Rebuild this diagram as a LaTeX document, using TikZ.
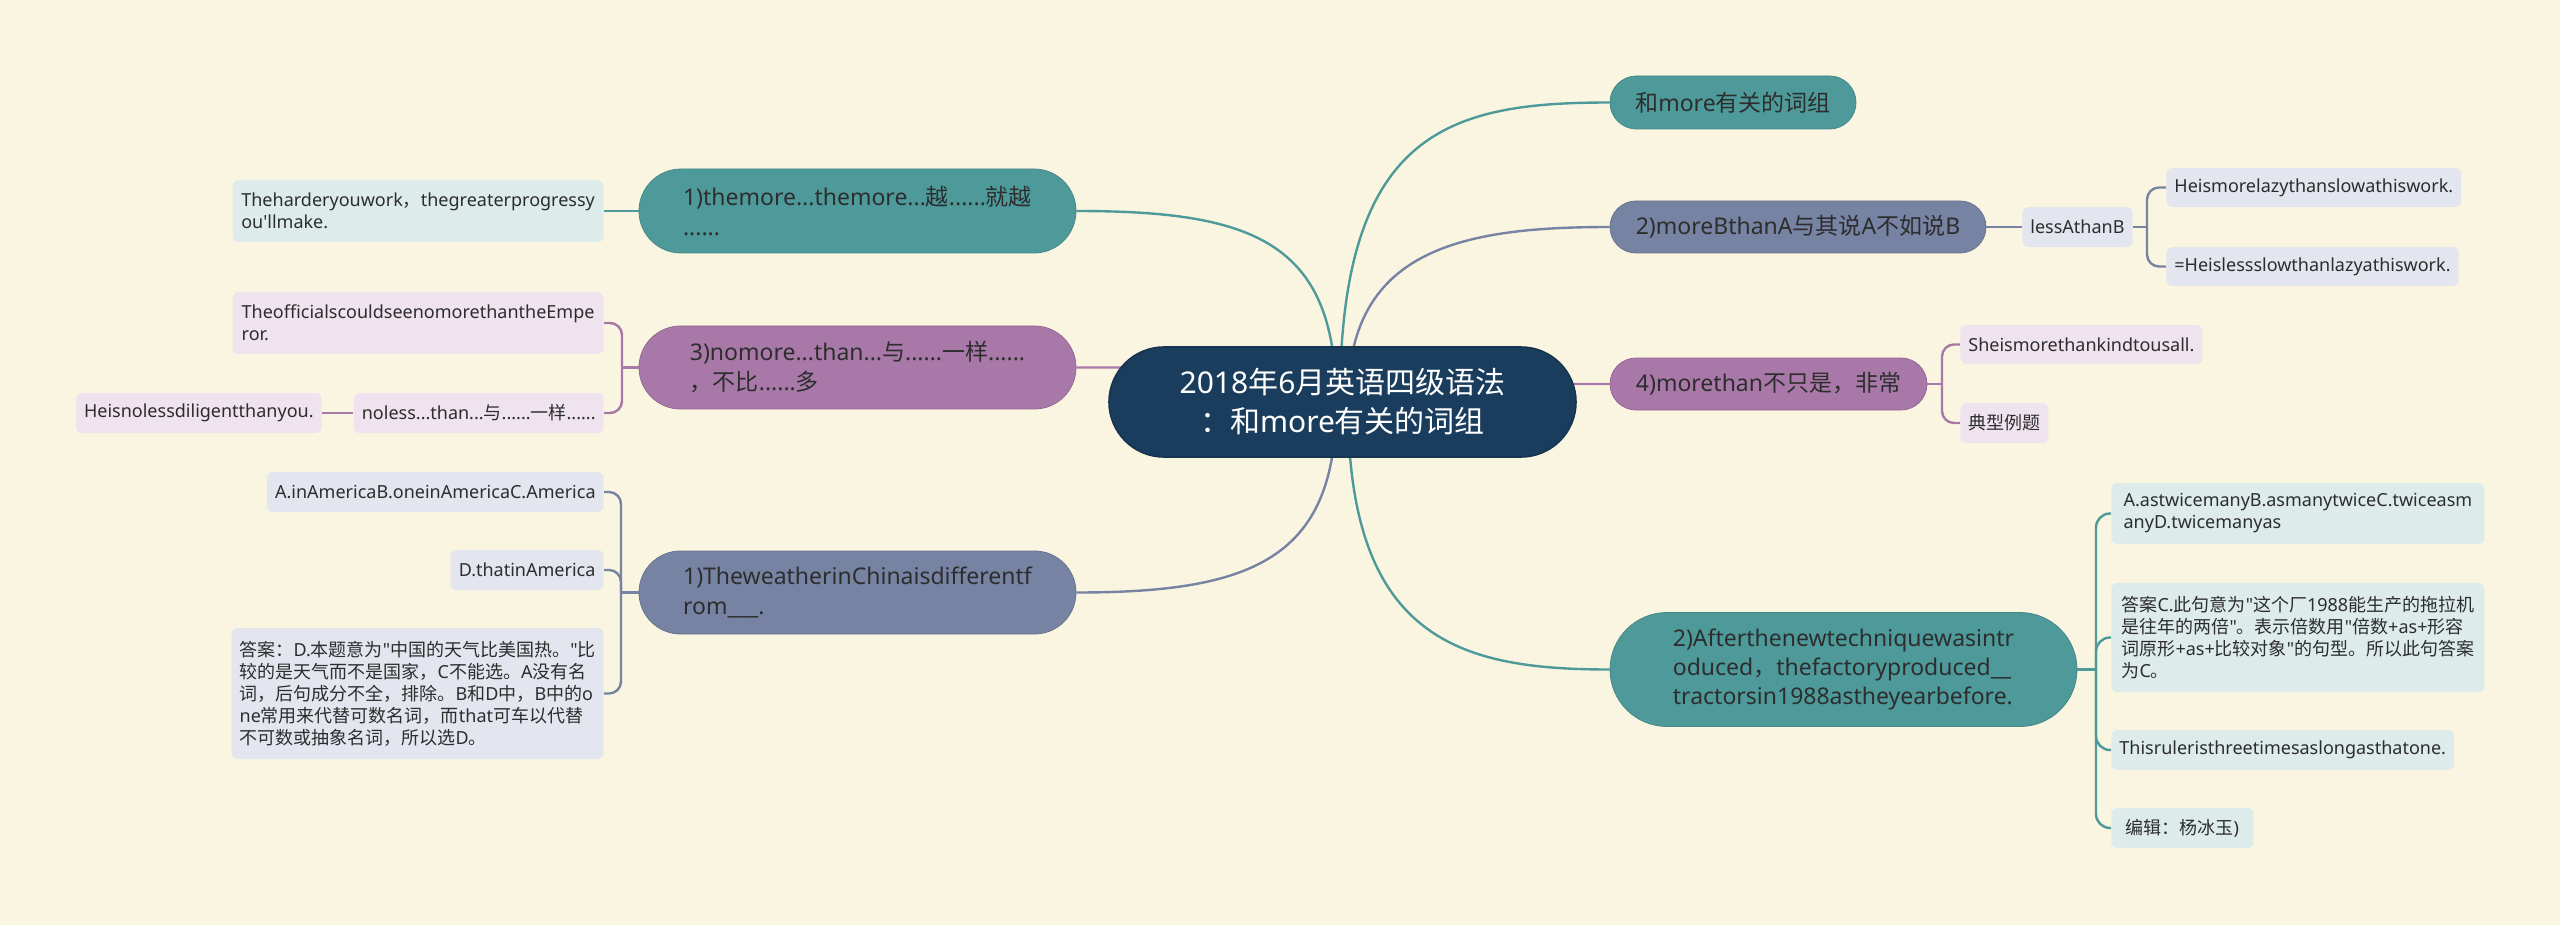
\documentclass[tikz,border=0pt]{standalone}
\usepackage{fontspec}
\setmainfont{Noto Sans}[Ligatures=TeXOff]
\newfontfamily\zhf{Noto Sans CJK SC}[Ligatures=TeXOff]
\newcommand\zh[1]{{\zhf #1}}
\definecolor{bgc}{RGB}{250,245,224}
\definecolor{navy}{RGB}{26,61,93}
\definecolor{tealm}{RGB}{78,154,155}
\definecolor{purm}{RGB}{168,121,168}
\definecolor{slatem}{RGB}{118,131,163}
\definecolor{tealL}{RGB}{221,235,235}
\definecolor{purL}{RGB}{238,227,238}
\definecolor{slateL}{RGB}{227,230,238}
\definecolor{txt}{RGB}{45,45,45}
\pgfdeclarelayer{bg}
\pgfdeclarelayer{edges}
\pgfsetlayers{bg,edges,main}
\tikzset{
  mnode/.style={text=txt, font=\fontsize{11.5}{15}\selectfont, align=left, inner xsep=12pt, inner ysep=2pt},
  leaf/.style={text=txt, font=\fontsize{9}{11}\selectfont, align=left, inner xsep=4pt, inner ysep=2pt, rounded corners=3pt},
  edge/.style={line width=1.2pt},
  br/.style={line width=1.2pt, rounded corners=6pt},
}
\begin{document}
\begin{tikzpicture}[x=0.5pt,y=-0.5pt]
\begin{pgfonlayer}{bg}
\fill[bgc] (0,0) rectangle (2560,925);
\end{pgfonlayer}

% root
\node[fill=navy, draw=navy!85!black, line width=0.8pt, text=white, font=\fontsize{15}{19.5}\selectfont, align=center, minimum width=233.5pt, minimum height=55pt, rounded corners=27.5pt, inner sep=2pt] (root) at (1342.5,402) {2018\zh{年}6\zh{月英语四级语法}\\\zh{：和}more\zh{有关的词组}};
\coordinate (r1) at (1336,400);
\coordinate (r2) at (1340,400);
\coordinate (r3) at (1348,400);
\coordinate (r4) at (1342,390);
\coordinate (r5) at (1342,395);
\coordinate (r6) at (1336,405);
\coordinate (r7) at (1348,405);

% right side
\node[mnode, fill=tealm, draw=tealm!88!black, minimum width=123pt, minimum height=26.5pt, rounded corners=13.25pt] (a) at (1733,102.5) {\zh{和}more\zh{有关的词组}};
\node[mnode, fill=slatem, draw=slatem!88!black, minimum width=188pt, minimum height=26pt, rounded corners=13pt] (b) at (1798,227) {2)moreBthanA\zh{与其说}A\zh{不如说}B};
\node[leaf, fill=slateL, anchor=west, minimum width=54.5pt, minimum height=20pt] (b1) at (2022,227) {lessAthanB};
\node[leaf, fill=slateL, anchor=west, minimum width=146pt, minimum height=19.5pt] (b11) at (2166,187.5) {Heismorelazythanslowathiswork.};
\node[leaf, fill=slateL, anchor=west, minimum width=146pt, minimum height=19.5pt] (b12) at (2166,266.5) {=Heislessslowthanlazyathiswork.};
\node[mnode, fill=purm, draw=purm!88!black, minimum width=158.5pt, minimum height=26pt, rounded corners=13pt] (c) at (1768.5,384) {4)morethan\zh{不只是，非常}};
\node[leaf, fill=purL, anchor=west, minimum width=120.5pt, minimum height=19.5pt] (c1) at (1960,344.5) {Sheismorethankindtousall.};
\node[leaf, fill=purL, anchor=west, minimum width=44pt, minimum height=20pt] (c2) at (1960,423) {\zh{典型例题}};
\node[mnode, fill=tealm, draw=tealm!88!black, font=\fontsize{11.5}{14.5}\selectfont, minimum width=233.5pt, minimum height=57pt, rounded corners=28.5pt] (d) at (1843.5,669.5) {2)Afterthenewtechniquewasintr\\oduced\zh{，}thefactoryproduced\_\_\\tractorsin1988astheyearbefore.};
\node[leaf, fill=tealL, anchor=west, minimum width=186.5pt, minimum height=30.5pt] (d1) at (2111,513.5) {A.astwicemanyB.asmanytwiceC.twiceasm\\anyD.twicemanyas};
\node[leaf, fill=tealL, anchor=west, minimum width=186.5pt, minimum height=54.5pt] (d2) at (2111,637.5) {\zh{答案}C.\zh{此句意为}"\zh{这个厂}1988\zh{能生产的拖拉机}\\\zh{是往年的两倍}"\zh{。表示倍数用}"\zh{倍数}+as+\zh{形容}\\\zh{词原形}+as+\zh{比较对象}"\zh{的句型。所以此句答案}\\\zh{为}C\zh{。}};
\node[leaf, fill=tealL, anchor=west, minimum width=169.5pt, minimum height=20pt] (d3) at (2111,750) {Thisruleristhreetimesaslongasthatone.};
\node[leaf, fill=tealL, anchor=west, minimum width=71pt, minimum height=20pt] (d4) at (2111,828) {\zh{编辑：杨冰玉})};

% left side
\node[mnode, fill=tealm, draw=tealm!88!black, minimum width=218.5pt, minimum height=42pt, rounded corners=21pt] (e) at (857.5,211) {1)themore...themore...\zh{越}......\zh{就越}\\......};
\node[leaf, fill=tealL, anchor=east, minimum width=185.5pt, minimum height=31pt] (e1) at (604,211) {Theharderyouwork\zh{，}thegreaterprogressy\\ou'llmake.};
\node[mnode, fill=purm, draw=purm!88!black, minimum width=218.5pt, minimum height=41.5pt, rounded corners=20.75pt] (f) at (857.5,367.5) {3)nomore...than...\zh{与}......\zh{一样}......\\\zh{，不比}......\zh{多}};
\node[leaf, fill=purL, anchor=east, minimum width=185.5pt, minimum height=31pt] (f1) at (604,323) {TheofficialscouldseenomorethantheEmpe\\ror.};
\node[leaf, fill=purL, anchor=east, minimum width=124pt, minimum height=20pt] (f2) at (604,413) {noless...than...\zh{与}......\zh{一样}......};
\node[leaf, fill=purL, anchor=east, minimum width=122.5pt, minimum height=20pt] (f21) at (322,413) {Heisnolessdiligentthanyou.};
\node[mnode, fill=slatem, draw=slatem!88!black, minimum width=218.5pt, minimum height=41.5pt, rounded corners=20.75pt] (g) at (857.5,592.5) {1)TheweatherinChinaisdifferentf\\rom\_\_\_.};
\node[leaf, fill=slateL, anchor=east, minimum width=168pt, minimum height=20pt] (g1) at (604,492) {A.inAmericaB.oneinAmericaC.America};
\node[leaf, fill=slateL, anchor=east, minimum width=76.5pt, minimum height=20pt] (g2) at (604,570) {D.thatinAmerica};
\node[leaf, fill=slateL, anchor=east, minimum width=185.5pt, minimum height=65.5pt] (g3) at (604,693.5) {\zh{答案：}D.\zh{本题意为}"\zh{中国的天气比美国热。}"\zh{比}\\\zh{较的是天气而不是国家，}C\zh{不能选。}A\zh{没有名}\\\zh{词，后句成分不全，排除。}B\zh{和}D\zh{中，}B\zh{中的}o\\ne\zh{常用来代替可数名词，而}that\zh{可车以代替}\\\zh{不可数或抽象名词，所以选}D\zh{。}};

% spine coordinates
\coordinate (sb) at (2147,227);
\coordinate (sc) at (1942,384);
\coordinate (sd) at (2096,669.5);
\coordinate (sf) at (622,367.5);
\coordinate (sg) at (621,592.5);

\begin{pgfonlayer}{edges}
% root connectors
\draw[edge, tealm] (r1) .. controls (1336,240) and (1250,211) .. (e.east);
\draw[edge, tealm] (r2) .. controls (1340,130) and (1450,102.5) .. (a.west);
\draw[edge, slatem] (r3) .. controls (1348,250) and (1460,227) .. (b.west);
\draw[edge, purm] (r4) .. controls (1200,367.5) .. (f.east);
\draw[edge, purm] (r5) .. controls (1480,384) .. (c.west);
\draw[edge, slatem] (r6) .. controls (1336,560) and (1250,592.5) .. (g.east);
\draw[edge, tealm] (r7) .. controls (1348,640) and (1460,669.5) .. (d.west);
% right groups
\draw[edge, slatem] (b.east) -- (b1.west);
\draw[edge, slatem] (b1.east) -- (sb);
\draw[br, slatem] (sb) |- (b11.west);
\draw[br, slatem] (sb) |- (b12.west);
\draw[edge, purm] (c.east) -- (sc);
\draw[br, purm] (sc) |- (c1.west);
\draw[br, purm] (sc) |- (c2.west);
\draw[edge, tealm] (d.east) -- (sd);
\draw[br, tealm, rounded corners=7pt] (sd) |- (d1.west);
\draw[br, tealm, rounded corners=7pt] (sd) |- (d2.west);
\draw[br, tealm, rounded corners=7pt] (sd) |- (d3.west);
\draw[br, tealm, rounded corners=7pt] (sd) |- (d4.west);
% left groups
\draw[edge, tealm] (e.west) -- (e1.east);
\draw[edge, purm] (f.west) -- (sf);
\draw[br, purm] (sf) |- (f1.east);
\draw[br, purm] (sf) |- (f2.east);
\draw[edge, purm] (f2.west) -- (f21.east);
\draw[edge, slatem] (g.west) -- (sg);
\draw[br, slatem] (sg) |- (g1.east);
\draw[br, slatem] (sg) |- (g2.east);
\draw[br, slatem] (sg) |- (g3.east);
\end{pgfonlayer}
\end{tikzpicture}
\end{document}
